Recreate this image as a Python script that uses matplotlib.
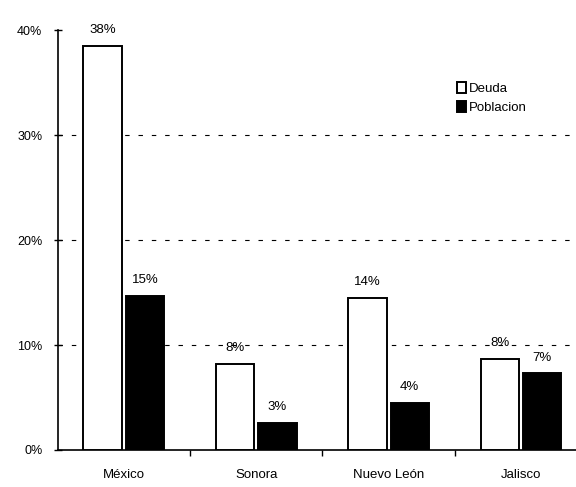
"""Deuda vs. poblacion por estado: grouped bar chart."""

import matplotlib

matplotlib.use("Agg")
import matplotlib.pyplot as plt
import numpy as np

plt.rcParams["font.family"] = ["Liberation Sans", "DejaVu Sans"]

ESTADOS = ["México", "Sonora", "Nuevo León", "Jalisco"]
DEUDA = [38.5, 8.2, 14.5, 8.7]
POBLACION = [14.7, 2.6, 4.5, 7.3]
DEUDA_LABELS = ["38%", "8%", "14%", "8%"]
POBLACION_LABELS = ["15%", "3%", "4%", "7%"]
Y_TICKS = [0, 10, 20, 30, 40]
Y_TICK_LABELS = ["0%", "10%", "20%", "30%", "40%"]


def main() -> None:
    fig = plt.figure(figsize=(5.76, 4.87), dpi=100)
    ax = fig.add_axes([0.10, 0.076, 0.90, 0.862])

    x = np.arange(len(ESTADOS))
    width = 0.29
    gap = 0.015
    bars_d = ax.bar(x - width / 2 - gap, DEUDA, width, color="white",
                    edgecolor="black", linewidth=1.4, label="Deuda", zorder=3)
    bars_p = ax.bar(x + width / 2 + gap, POBLACION, width, color="black",
                    edgecolor="black", linewidth=1.4, label="Poblacion", zorder=3)

    for bars, labels in [(bars_d, DEUDA_LABELS), (bars_p, POBLACION_LABELS)]:
        for bar, lab in zip(bars, labels):
            ax.annotate(lab, (bar.get_x() + bar.get_width() / 2, bar.get_height()),
                        xytext=(0, 7), textcoords="offset points",
                        ha="center", va="bottom", fontsize=9.5)

    ax.set_xlim(-0.5, -0.5 + 518 / 132.3)
    ax.set_ylim(0, 40)
    ax.set_yticks(Y_TICKS)
    ax.set_yticklabels(Y_TICK_LABELS, fontsize=9)
    ax.tick_params(axis="y", direction="inout", length=6, width=1, pad=8)

    ax.set_xticks(x)
    ax.set_xticklabels(ESTADOS, fontsize=9.5)
    ax.tick_params(axis="x", length=0, pad=14)
    ax.set_xticks(x[:-1] + 0.5, minor=True)
    ax.tick_params(axis="x", which="minor", length=4, width=1, direction="out")

    for y in Y_TICKS[1:-1]:
        ax.axhline(y, color="black", linestyle=(0, (4, 8)), linewidth=0.8, zorder=1)

    for side in ["top", "right"]:
        ax.spines[side].set_visible(False)
    ax.spines["left"].set_linewidth(1.2)
    ax.spines["bottom"].set_linewidth(1.2)

    ax.legend(loc="upper left", bbox_to_anchor=(0.76, 0.89), frameon=False,
              fontsize=9.5, handlelength=0.7, handleheight=0.9, handletextpad=0.2,
              labelspacing=0.5, borderaxespad=0)

    fig.savefig("out.png", dpi=100)
    plt.close(fig)


if __name__ == "__main__":
    main()
